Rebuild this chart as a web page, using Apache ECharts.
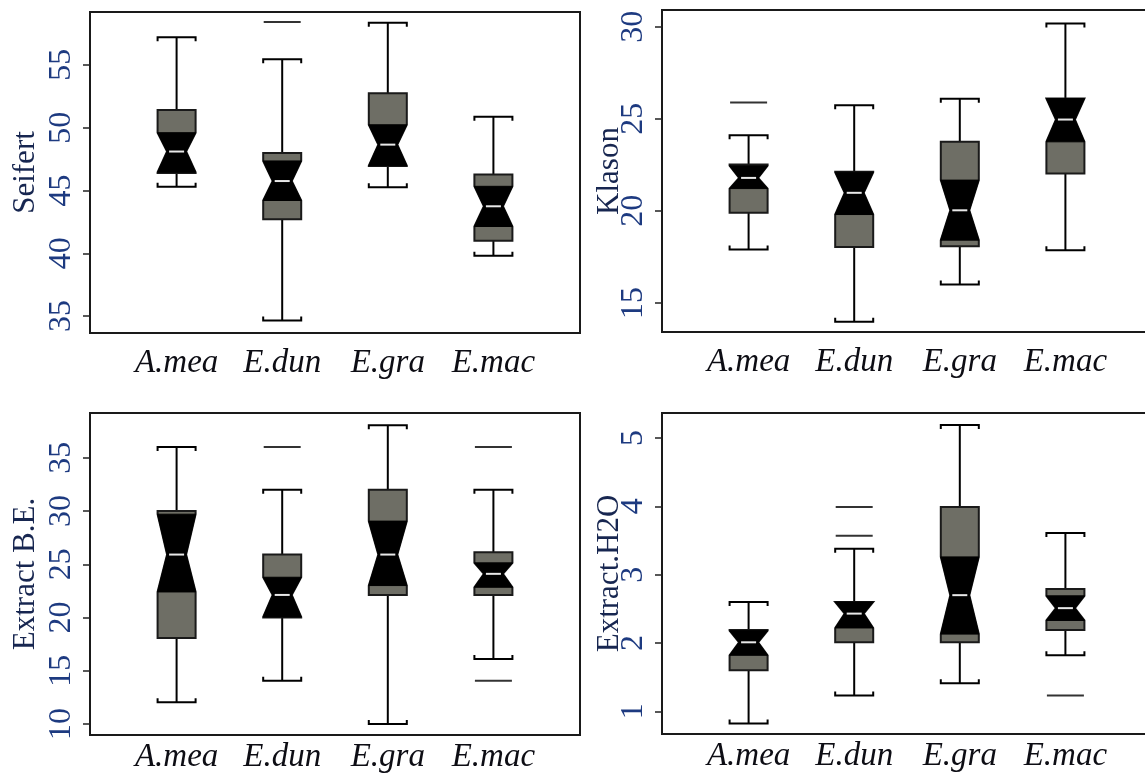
<!DOCTYPE html>
<html>
<head>
<meta charset="utf-8">
<title>Notched boxplots</title>
<script src="https://cdn.jsdelivr.net/npm/echarts@6/dist/echarts.min.js"></script>
<style>
  html, body { margin: 0; padding: 0; background: #fff; }
  #chart { width: 1145px; height: 774px; }
</style>
</head>
<body>
<div id="chart"></div>
<script>
// species on the x axis
const categories = ['A.mea', 'E.dun', 'E.gra', 'E.mac']

// each box: [whisker low, Q1, notch low, median, notch high, Q3, whisker high]
const seifertBoxes = [
  [45.3, 46.4, 46.45, 48.1, 49.6, 51.4, 57.2],
  [34.65, 42.7, 44.2, 45.75, 47.35, 47.98, 55.45],
  [45.25, 46.95, 46.97, 48.65, 50.23, 52.75, 58.35],
  [39.8, 41.0, 42.13, 43.74, 45.33, 46.28, 50.87]
]
const seifertOutliers = [[2, 58.42]]
const seifertTicks = [35, 40, 45, 50, 55]

const klasonBoxes = [
  [17.9, 19.9, 21.21, 21.79, 22.45, 22.52, 24.11],
  [13.97, 18.04, 19.8, 20.98, 22.1, 22.12, 25.74],
  [16.0, 18.08, 18.41, 20.03, 21.67, 23.75, 26.09],
  [17.86, 22.03, 23.75, 24.96, 26.1, 26.1, 30.18]
]
const klasonOutliers = [[1, 25.89]]
const klasonTicks = [15, 20, 25, 30]

const extractBEBoxes = [
  [12.04, 18.08, 22.4, 25.91, 29.7, 29.99, 36.0],
  [14.07, 20.0, 20.05, 22.12, 23.78, 25.91, 31.99],
  [10.0, 22.12, 23.0, 25.91, 29.05, 31.99, 38.04],
  [16.11, 22.12, 22.84, 24.1, 25.13, 26.13, 32.0]
]
const extractBEOutliers = [[2, 36.0], [4, 36.0], [4, 14.07]]
const extractBETicks = [10, 15, 20, 25, 30, 35]

const extractH2OBoxes = [
  [0.82, 1.6, 1.82, 2.01, 2.18, 2.19, 2.6],
  [1.23, 2.01, 2.22, 2.43, 2.6, 2.6, 3.38],
  [1.41, 2.01, 2.13, 2.7, 3.26, 3.99, 5.19],
  [1.82, 2.19, 2.33, 2.51, 2.69, 2.79, 3.61]
]
const extractH2OOutliers = [[2, 3.99], [2, 3.57], [4, 1.23]]
const extractH2OTicks = [1, 2, 3, 4, 5]

const boxWidth = 0.36 // in x-axis units
const serif = '"Liberation Serif", "DejaVu Serif", serif'

function renderBox(params, api) {
  const x = api.value(0)
  const wlo = api.value(1)
  const q1 = api.value(2)
  const nlo = api.value(3)
  const med = api.value(4)
  const nhi = api.value(5)
  const q3 = api.value(6)
  const whi = api.value(7)
  const c = api.coord([x, med])[0]
  const hw = api.size([boxWidth, 0])[0] / 2
  const qw = hw / 2
  const y = v => api.coord([x, v])[1]
  const line = { stroke: '#000', lineWidth: 2, fill: null }

  const yTop = y(Math.max(q3, nhi))
  const yBot = y(Math.min(q1, nlo))
  const children = [
    { type: 'line', shape: { x1: c, y1: yTop, x2: c, y2: y(whi) }, style: line },
    { type: 'line', shape: { x1: c, y1: yBot, x2: c, y2: y(wlo) }, style: line },
    { type: 'polyline', shape: { points: [[c - hw, y(whi) + 4], [c - hw, y(whi)], [c + hw, y(whi)], [c + hw, y(whi) + 4]] }, style: line },
    { type: 'polyline', shape: { points: [[c - hw, y(wlo) - 4], [c - hw, y(wlo)], [c + hw, y(wlo)], [c + hw, y(wlo) - 4]] }, style: line },
    // gray notched box
    {
      type: 'polygon',
      shape: {
        points: [
          [c - hw, y(q1)], [c - hw, y(nlo)], [c - qw, y(med)], [c - hw, y(nhi)], [c - hw, y(q3)],
          [c + hw, y(q3)], [c + hw, y(nhi)], [c + qw, y(med)], [c + hw, y(nlo)], [c + hw, y(q1)]
        ]
      },
      style: { fill: '#6e6e65', stroke: '#1a1a1a', lineWidth: 2 }
    },
    // black notch
    {
      type: 'polygon',
      shape: {
        points: [
          [c - hw, y(nlo)], [c - qw, y(med)], [c - hw, y(nhi)],
          [c + hw, y(nhi)], [c + qw, y(med)], [c + hw, y(nlo)]
        ]
      },
      style: { fill: '#000', stroke: '#000', lineWidth: 1 }
    },
    { type: 'line', shape: { x1: c - qw + 2, y1: y(med), x2: c + qw - 2, y2: y(med) }, style: { stroke: '#e8e8e8', lineWidth: 2 } }
  ]
  return { type: 'group', children: children }
}

const panels = [
  { name: 'Seifert', boxes: seifertBoxes, outliers: seifertOutliers, ticks: seifertTicks, min: 33.65, max: 59.21, grid: { left: 90, top: 12, width: 490, height: 321 }, labelMargin: 14, nameGap: 49 },
  { name: 'Klason', boxes: klasonBoxes, outliers: klasonOutliers, ticks: klasonTicks, min: 13.42, max: 30.91, grid: { left: 662, top: 10, width: 488, height: 322 }, labelMargin: 14, nameGap: 37 },
  { name: 'Extract B.E.', boxes: extractBEBoxes, outliers: extractBEOutliers, ticks: extractBETicks, min: 8.97, max: 39.2, grid: { left: 90, top: 413, width: 490, height: 322 }, labelMargin: 6, nameGap: 49 },
  { name: 'Extract.H2O', boxes: extractH2OBoxes, outliers: extractH2OOutliers, ticks: extractH2OTicks, min: 0.668, max: 5.366, grid: { left: 662, top: 413, width: 488, height: 321 }, labelMargin: 6, nameGap: 37 }
]

const grid = []
const xAxis = []
const yAxis = []
const series = []

panels.forEach((p, i) => {
  // right panels run past the page edge, so do not let echarts squeeze them back in
  grid.push(Object.assign({ show: true, borderColor: '#1a1a1a', borderWidth: 2, backgroundColor: 'transparent', outerBoundsMode: 'none', containLabel: false }, p.grid))
  xAxis.push({
    type: 'value',
    gridIndex: i,
    min: 0.18,
    max: 0.18 + p.grid.width / 490 * 4.64,
    axisLine: { show: false },
    axisTick: { show: false },
    splitLine: { show: false },
    axisLabel: {
      customValues: [1, 2, 3, 4],
      formatter: v => categories[Math.round(v) - 1],
      fontFamily: serif,
      fontStyle: 'italic',
      fontSize: 33,
      color: '#0d0d14',
      margin: p.labelMargin
    }
  })
  yAxis.push({
    type: 'value',
    gridIndex: i,
    min: p.min,
    max: p.max,
    name: p.name,
    nameLocation: 'middle',
    nameGap: p.nameGap,
    nameMoveOverlap: false,
    nameTextStyle: { fontFamily: serif, fontSize: 31, color: '#172650' },
    axisLine: { show: false },
    splitLine: { show: false },
    axisTick: { show: true, length: 7, customValues: p.ticks, lineStyle: { color: '#222', width: 1.5 } },
    axisLabel: {
      customValues: p.ticks,
      rotate: 90,
      margin: 12,
      fontFamily: serif,
      fontSize: 32,
      color: '#1d3a80'
    }
  })
  series.push({
    type: 'custom',
    xAxisIndex: i,
    yAxisIndex: i,
    renderItem: renderBox,
    encode: { x: 0, y: [1, 2, 3, 4, 5, 6, 7] },
    data: p.boxes.map((b, k) => [k + 1].concat(b)),
    silent: true,
    animation: false
  })
  series.push({
    type: 'scatter',
    xAxisIndex: i,
    yAxisIndex: i,
    symbol: 'rect',
    symbolSize: [37, 2],
    itemStyle: { color: '#000' },
    data: p.outliers,
    silent: true,
    animation: false
  })
})

const chart = echarts.init(document.getElementById('chart'))
chart.setOption({
  animation: false,
  backgroundColor: '#fff',
  grid: grid,
  xAxis: xAxis,
  yAxis: yAxis,
  series: series
})
</script>
</body>
</html>
